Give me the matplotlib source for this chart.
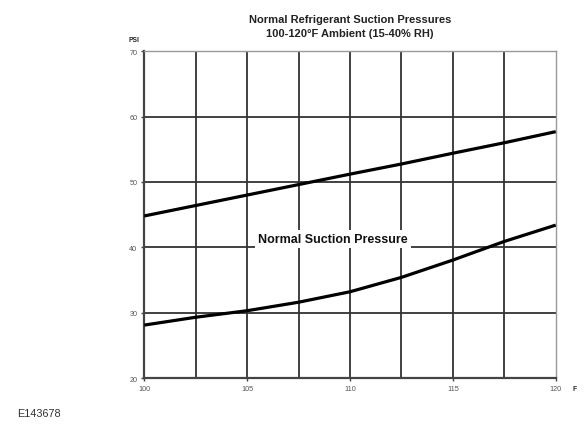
import matplotlib
matplotlib.use("Agg")
import matplotlib.pyplot as plt
import numpy as np

temps = [100, 102.5, 105, 107.5, 110, 112.5, 115, 117.5, 120]
upper_psi = [44.8, 46.4, 48.0, 49.6, 51.2, 52.75, 54.4, 56.0, 57.7]
lower_psi = [28.1, 29.3, 30.3, 31.6, 33.2, 35.4, 38.05, 40.9, 43.4]
x_ticks = [100, 105, 110, 115, 120]
y_ticks = [20, 30, 40, 50, 60, 70]
x_grid = [102.5, 105, 107.5, 110, 112.5, 115, 117.5]
y_grid = [30, 40, 50, 60]
title_lines = ["Normal Refrigerant Suction Pressures", "100-120\u00b0F Ambient (15-40% RH)"]
curve_label = "Normal Suction Pressure"

plt.rcParams['font.family'] = ['Liberation Sans', 'DejaVu Sans']

fig = plt.figure(figsize=(5.87, 4.31), dpi=100)
ax = fig.add_axes([0.2458, 0.1206, 0.7009, 0.7581])
ax.set_xlim(100, 120)
ax.set_ylim(20, 70)

gc = '#333333'
for xv in x_grid:
    ax.axvline(xv, color=gc, lw=1.3, zorder=1)
for yv in y_grid:
    ax.axhline(yv, color=gc, lw=1.3, zorder=1)

ax.plot(temps, upper_psi, color='black', lw=2.3, zorder=3, solid_capstyle='butt')
ax.plot(temps, lower_psi, color='black', lw=2.3, zorder=3, solid_capstyle='butt')

ax.text(109.17, 41.3, curve_label, ha='center', va='center', fontsize=9.0,
        fontweight='bold', color='#111111', zorder=4,
        bbox=dict(facecolor='white', edgecolor='none', pad=2.3))

for side in ['left', 'bottom']:
    ax.spines[side].set_color('#444444')
    ax.spines[side].set_linewidth(1.6)
for side in ['top', 'right']:
    ax.spines[side].set_color('#999999')
    ax.spines[side].set_linewidth(1.0)

ax.set_xticks(x_ticks)
ax.set_yticks(y_ticks)
ax.tick_params(axis='both', labelsize=5.2, labelcolor='#555555', color='#444444',
               length=2.5, width=1.0, pad=2.5)

fig.text(0.596, 0.953, title_lines[0], ha='center', va='center', fontsize=8.0,
         fontweight='bold', color='#222222')
fig.text(0.596, 0.922, title_lines[1], ha='center', va='center', fontsize=8.0,
         fontweight='bold', color='#222222')
fig.text(0.228, 0.905, "PSI", ha='center', va='center', fontsize=4.8,
         fontweight='bold', color='#222222')
fig.text(0.979, 0.096, "F", ha='center', va='center', fontsize=4.8,
         fontweight='bold', color='#222222')
fig.text(0.030, 0.040, "E143678", ha='left', va='center', fontsize=7.8,
         color='#333333')

fig.savefig("out.png", dpi=100)
